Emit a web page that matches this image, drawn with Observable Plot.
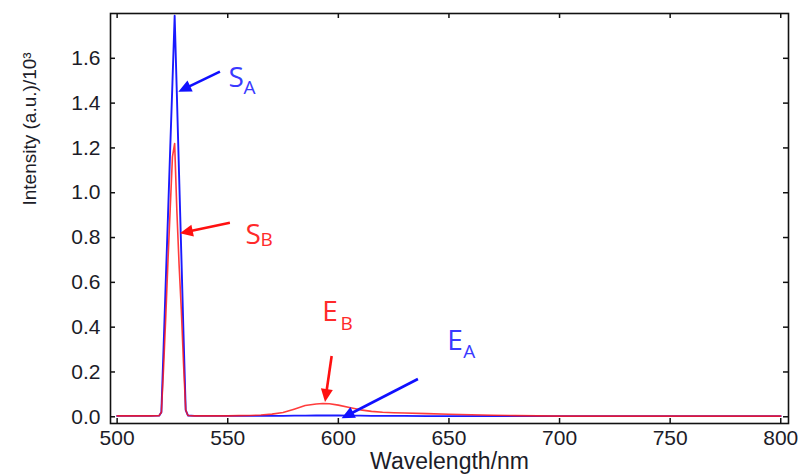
<!DOCTYPE html>
<html><head><meta charset="utf-8">
<script src="https://cdn.jsdelivr.net/npm/d3@7"></script>
<script src="https://cdn.jsdelivr.net/npm/@observablehq/plot@0.6"></script>
<style>body{margin:0;background:#fff}</style>
</head><body><div id="chart"></div>
<script>
// ---- data ----
const wavelengths = [500,505,510,515,519,520,521,522,523,524,525,526,527,528,529,530,531,532,535,540,545,550,555,560,565,570,575,580,585,590,593,596,600,605,610,615,620,625,630,640,650,660,670,680,690,700,710,720,730,740,750,760,770,780,790,800];
const intensityA = [0.004,0.004,0.004,0.004,0.005,0.02,0.31,0.61,0.9,1.2,1.49,1.79,1.44,1.08,0.73,0.37,0.03,0.006,0.004,0.004,0.004,0.004,0.004,0.004,0.004,0.004,0.004,0.005,0.005,0.006,0.006,0.006,0.006,0.005,0.005,0.004,0.004,0.004,0.004,0.003,0.003,0.003,0.003,0.003,0.003,0.003,0.003,0.003,0.003,0.003,0.003,0.003,0.003,0.003,0.003,0.003];
const intensityB = [0.004,0.004,0.004,0.004,0.005,0.02,0.22,0.45,0.7,0.93,1.16,1.22,0.92,0.68,0.48,0.24,0.03,0.006,0.004,0.004,0.004,0.004,0.005,0.006,0.008,0.012,0.019,0.034,0.05,0.057,0.059,0.058,0.052,0.041,0.031,0.024,0.02,0.018,0.017,0.014,0.011,0.009,0.007,0.005,0.004,0.003,0.003,0.003,0.003,0.003,0.003,0.003,0.003,0.003,0.003,0.003];
const xTicks = [500,550,600,650,700,750,800];
const yTicks = [0,0.2,0.4,0.6,0.8,1.0,1.2,1.4,1.6];
const xTitle = "Wavelength/nm";
const yTitle = "Intensity (a.u.)/10³";

// annotations
const labelMain = ["S","S","E","E"];
const labelSub  = ["A","B","B","A"];
const labelColor = ["#3a3aff","#ff2a2a","#ff2a2a","#3a3aff"];
const labelX    = [550.3,558.0,592.7,649.2];
const labelY    = [1.513,0.813,0.466,0.337];
const subX      = [557.1,564.8,601.0,656.5];
const subY      = [1.468,0.790,0.416,0.288];
const arrowFromX = [546.7,551.2,597.2,636.2];
const arrowFromY = [1.538,0.864,0.269,0.1665];
const arrowToX   = [527.9,528.6,594.2,601.7];
const arrowToY   = [1.449,0.817,0.064,-0.009];
const arrowColor = ["#1010ff","#ff1010","#ff1010","#1010ff"];

// ---- tables built from the arrays ----
const seriesA = wavelengths.map((w,i)=>({w, v: intensityA[i]}));
const seriesB = wavelengths.map((w,i)=>({w, v: intensityB[i]}));
const mains = labelMain.map((t,i)=>({t, x: labelX[i], y: labelY[i], c: labelColor[i]}));
const subs = labelSub.map((t,i)=>({t, x: subX[i], y: subY[i], c: labelColor[i]}));
const arrows = arrowColor.map((c,i)=>({c, x1: arrowFromX[i], y1: arrowFromY[i], x2: arrowToX[i], y2: arrowToY[i]}));

const W = 800, H = 476, mL = 110, mR = 12, mT = 13, mB = 53;
const plotH = H - mT - mB, plotW = W - mL - mR;
const tickLen = 5;
const tickFont = "Liberation Sans, Arial, sans-serif";

function arrowRender(index, scales, values) {
  const g = d3.create("svg:g");
  for (const i of index) {
    const x1 = values.x1[i], y1 = values.y1[i], x2 = values.x2[i], y2 = values.y2[i];
    const c = arrows[i].c;
    const dx = x2 - x1, dy = y2 - y1, L = Math.hypot(dx, dy);
    const ux = dx / L, uy = dy / L;
    const hl = 13, hw = 6;
    const bx = x2 - ux * hl, by = y2 - uy * hl;
    g.append("line").attr("x1", x1).attr("y1", y1).attr("x2", bx + ux*2).attr("y2", by + uy*2)
      .attr("stroke", c).attr("stroke-width", 2.6);
    g.append("path")
      .attr("d", `M${x2},${y2}L${bx - uy*hw},${by + ux*hw}L${bx + uy*hw},${by - ux*hw}Z`)
      .attr("fill", c);
  }
  return g.node();
}

const chart = Plot.plot({
  width: W, height: H,
  marginLeft: mL, marginRight: mR, marginTop: mT, marginBottom: mB,
  x: {domain: [497, 803.5]},
  y: {domain: [-0.03, 1.80]},
  color: {type: "identity"},
  style: {background: "#fff"},
  marks: [
    Plot.axisX(xTicks, {tickSize: 0, tickPadding: 7, fontSize: 21, fontFamily: tickFont, fill: "#1c1c28", label: null}),
    Plot.axisY(yTicks, {tickSize: 0, tickPadding: 10, fontSize: 21, fontFamily: tickFont, fill: "#1c1c28", tickFormat: d3.format(".1f"), label: null}),
    Plot.tickX(xTicks, {x: d => d, insetTop: plotH - tickLen, stroke: "#111", strokeWidth: 1.5}),
    Plot.tickX(xTicks, {x: d => d, insetBottom: plotH - tickLen, stroke: "#111", strokeWidth: 1.5}),
    Plot.tickY(yTicks, {y: d => d, insetRight: plotW - tickLen, stroke: "#111", strokeWidth: 1.5}),
    Plot.tickY(yTicks, {y: d => d, insetLeft: plotW - tickLen, stroke: "#111", strokeWidth: 1.5}),
    Plot.line(seriesA, {x: "w", y: "v", stroke: "#1a1aff", strokeWidth: 1.9}),
    Plot.line(seriesB, {x: "w", y: "v", stroke: "#ff1a1a", strokeWidth: 1.6, strokeOpacity: 0.85}),
    Plot.frame({stroke: "#111", strokeWidth: 1.6}),
    Plot.link(arrows, {x1: "x1", y1: "y1", x2: "x2", y2: "y2", render: arrowRender}),
    Plot.text(mains, {x: "x", y: "y", text: "t", fill: "c", fontSize: 28, fontFamily: "Open Sans, sans-serif", textAnchor: "start", lineAnchor: "middle"}),
    Plot.text(subs, {x: "x", y: "y", text: "t", fill: "c", fontSize: 19, fontFamily: "Open Sans, sans-serif", textAnchor: "start", lineAnchor: "middle"}),
    Plot.text([xTitle], {text: d => d, frameAnchor: "bottom", dy: 45, fontSize: 23, fontFamily: tickFont, fill: "#1c1c28"}),
    Plot.text([yTitle], {text: d => d, frameAnchor: "left", rotate: -90, dx: -81, dy: -13, fontSize: 19, fontFamily: tickFont, fill: "#1c1c28"})
  ]
});
document.getElementById("chart").appendChild(chart);
</script>
</body></html>
